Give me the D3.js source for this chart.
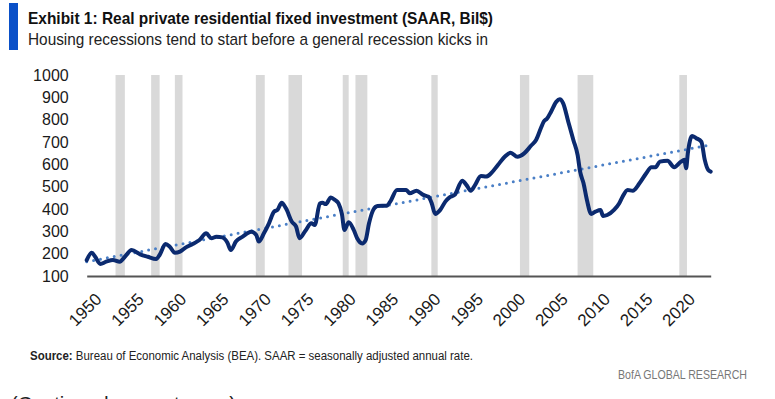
<!DOCTYPE html>
<html>
<head>
<meta charset="utf-8">
<script src="https://cdn.jsdelivr.net/npm/d3@7/dist/d3.min.js"></script>
<style>
  body { margin: 0; background: #fff; }
  svg { display: block; font-family: "Liberation Sans", Arial, sans-serif; }
</style>
</head>
<body>
<div id="chart"></div>
<script>
// values (year, Bil$ SAAR)
const years = [1950.0, 1950.6, 1951.0, 1951.6, 1952.3, 1953.1, 1953.9, 1954.5, 1955.3, 1956.3,
  1957.2, 1958.2, 1958.6, 1959.3, 1959.8, 1960.4, 1961.0, 1961.7, 1962.5, 1963.3,
  1964.1, 1964.7, 1965.3, 1966.0, 1966.6, 1967.0, 1967.6, 1968.4, 1969.4, 1970.0,
  1970.3, 1970.9, 1971.5, 1972.1, 1972.5, 1973.0, 1973.5, 1974.2, 1974.7, 1975.1,
  1975.8, 1976.5, 1976.9, 1977.5, 1977.8, 1978.2, 1978.8, 1979.3, 1979.7, 1980.1,
  1980.4, 1980.9, 1981.5, 1981.9, 1982.5, 1982.9, 1983.3, 1983.8, 1984.3, 1985.4,
  1985.8, 1986.6, 1987.7, 1988.1, 1988.9, 1989.7, 1990.3, 1990.7, 1991.1, 1991.7,
  1992.3, 1992.8, 1993.4, 1994.3, 1994.8, 1995.3, 1995.8, 1996.5, 1997.1, 1997.7,
  1998.5, 1999.3, 2000.0, 2000.8, 2001.6, 2002.4, 2003.0, 2003.6, 2003.9, 2004.3,
  2004.8, 2005.4, 2005.8, 2006.2, 2006.8, 2007.4, 2007.9, 2008.2, 2008.6, 2009.0,
  2009.5, 2010.0, 2010.6, 2010.9, 2011.4, 2012.2, 2012.8, 2013.2, 2013.8, 2014.4,
  2015.2, 2016.0, 2016.6, 2017.1, 2017.6, 2018.5, 2019.3, 2020.1, 2020.5, 2020.7,
  2020.9, 2021.4, 2021.9, 2022.5, 2022.9, 2023.3, 2023.6];
const values = [171, 204, 186, 154, 164, 172, 164, 186, 216, 197,
  186, 176, 194, 243, 231, 204, 209, 228, 243, 261,
  291, 269, 276, 273, 249, 216, 254, 276, 298, 284,
  254, 291, 336, 388, 396, 428, 403, 343, 321, 269,
  303, 336, 328, 425, 428, 422, 452, 440, 425, 378,
  306, 341, 306, 269, 246, 261, 336, 396, 413, 415,
  433, 485, 485, 470, 482, 463, 455, 425, 378, 396,
  433, 452, 463, 527, 507, 482, 507, 548, 545, 560,
  597, 634, 652, 634, 649, 683, 709, 765, 791, 805,
  838, 881, 891, 873, 791, 709, 642, 567, 515, 440,
  378, 388, 396, 369, 373, 396, 425, 455, 485, 482,
  515, 560, 587, 587, 612, 616, 587, 612, 620, 582,
  649, 727, 717, 701, 620, 575, 567];

// dotted linear trend (end points)
const trendYears = [1950.0, 2023.6];
const trendValues = [164, 687];

// recessions (start, end)
const recStart = [1953.4, 1957.6, 1960.4, 1969.95, 1973.8, 1980.2, 1981.7, 1990.65, 2001.1, 2007.9, 2019.9];
const recEnd   = [1954.5, 1958.6, 1961.3, 1971.0, 1975.4, 1980.9, 1983.1, 1991.4, 2002.2, 2009.75, 2020.8];

const xTicks = [1950, 1955, 1960, 1965, 1970, 1975, 1980, 1985, 1990, 1995, 2000, 2005, 2010, 2015, 2020];
const yTicks = [100, 200, 300, 400, 500, 600, 700, 800, 900, 1000];

const W = 775, H = 399;
const svg = d3.select('#chart').append('svg')
    .attr('width', W)
    .attr('height', H);

// header
svg.append('rect').attr('x', 9).attr('y', 3).attr('width', 9).attr('height', 47).attr('fill', '#0a50c8');
svg.append('text').attr('x', 28).attr('y', 24)
    .attr('font-size', 16.5).attr('font-weight', 'bold').attr('fill', '#111')
    .attr('textLength', 465).attr('lengthAdjust', 'spacingAndGlyphs')
    .text('Exhibit 1: Real private residential fixed investment (SAAR, Bil$)');
svg.append('text').attr('x', 28).attr('y', 45)
    .attr('font-size', 17).attr('fill', '#222')
    .attr('textLength', 460).attr('lengthAdjust', 'spacingAndGlyphs')
    .text('Housing recessions tend to start before a general recession kicks in');

const x = d3.scaleLinear().domain([1950, 2023.6]).range([86.7, 710.7]);
const y = d3.scaleLinear().domain([100, 1000]).range([276, 75]);

// recession shading
svg.append('g').selectAll('rect')
    .data(recStart)
    .enter()
    .append('rect')
    .attr('x', (d) => x(d))
    .attr('width', (d, i) => x(recEnd[i]) - x(d))
    .attr('y', y(1000))
    .attr('height', y(100) - y(1000))
    .attr('fill', '#d9d9d9');

// axes
const yAxis = svg.append('g')
    .attr('transform', 'translate(' + x(1950) + ',0)')
    .call(d3.axisLeft(y).tickValues(yTicks).tickSize(0).tickPadding(18).tickFormat(d3.format('d')));
yAxis.select('.domain').remove();
yAxis.selectAll('text').attr('font-size', 16).attr('fill', '#1a1a1a')
    .attr('font-family', '"Liberation Sans", Arial, sans-serif');

const xAxis = svg.append('g')
    .attr('transform', 'translate(0,' + y(100) + ')')
    .call(d3.axisBottom(x).tickValues(xTicks).tickSize(0).tickFormat(d3.format('d')));
xAxis.select('.domain').attr('stroke', '#555').attr('stroke-width', 2);
xAxis.selectAll('text')
    .attr('font-size', 17).attr('fill', '#1a1a1a')
    .attr('font-family', '"Liberation Sans", Arial, sans-serif')
    .attr('text-anchor', 'end')
    .attr('x', 0).attr('y', 0).attr('dy', '0.7em')
    .attr('transform', 'translate(7,16) rotate(-45)');

// trend
const trend = trendYears.map((d, i) => [d, trendValues[i]]);
svg.append('path')
    .datum(trend)
    .attr('d', d3.line().x((d) => x(d[0])).y((d) => y(d[1])))
    .attr('fill', 'none')
    .attr('stroke', '#4a7fc6')
    .attr('stroke-width', 3)
    .attr('stroke-linecap', 'round')
    .attr('stroke-dasharray', '0 7');

// series
const series = years.map((d, i) => [d, values[i]]);
svg.append('path')
    .datum(series)
    .attr('d', d3.line().x((d) => x(d[0])).y((d) => y(d[1])).curve(d3.curveMonotoneX))
    .attr('fill', 'none')
    .attr('stroke', '#0b2a6f')
    .attr('stroke-width', 4)
    .attr('stroke-linejoin', 'round')
    .attr('stroke-linecap', 'round');

// footer
const src = svg.append('text').attr('x', 30).attr('y', 360).attr('font-size', 12.5).attr('fill', '#222')
    .attr('textLength', 443).attr('lengthAdjust', 'spacingAndGlyphs');
src.append('tspan').attr('font-weight', 'bold').text('Source: ');
src.append('tspan').text(' Bureau of Economic Analysis (BEA). SAAR = seasonally adjusted annual rate.');

svg.append('text').attr('x', 618).attr('y', 379)
    .attr('font-size', 13.5).attr('fill', '#777')
    .attr('textLength', 129).attr('lengthAdjust', 'spacingAndGlyphs')
    .text('BofA GLOBAL RESEARCH');

svg.append('text').attr('x', 11).attr('y', 411)
    .attr('font-size', 21).attr('fill', '#222')
    .attr('textLength', 225).attr('lengthAdjust', 'spacingAndGlyphs')
    .text('(Continued on next page)');
</script>
</body>
</html>
